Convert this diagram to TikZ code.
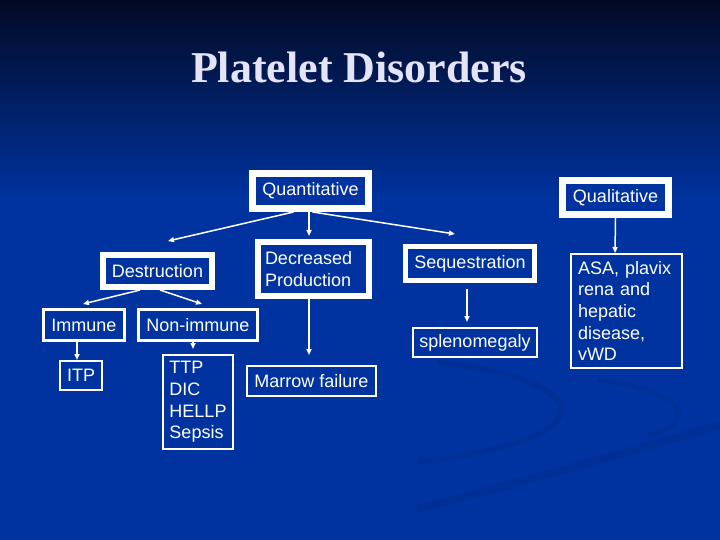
\documentclass[tikz,border=0pt]{standalone}
\usepackage{fontspec}
\setmainfont{Liberation Sans}
\newfontfamily\titlefont{Liberation Serif}
\usetikzlibrary{arrows.meta}

\definecolor{bgtop}{HTML}{020A24}
\definecolor{bgmain}{HTML}{00339F}
\definecolor{swoosh}{HTML}{003096}
\definecolor{titlecol}{HTML}{E4E4F6}

\begin{document}
\begin{tikzpicture}[
    x=1pt, y=-1pt,
    every node/.style={text=white, align=left, inner sep=0pt, font=\fontsize{18}{21.6}\selectfont},
    bigbox/.style={draw=white, line width=6pt, fill=bgmain},
    smallbox/.style={draw=white, line width=2pt, fill=bgmain},
    arrow/.style={-{Triangle[length=6pt,width=5pt]}, draw=white, line width=1.5pt}
]
\useasboundingbox (0,0) rectangle (720,540);

% background
\fill[top color=bgtop, bottom color=bgmain] (0,0) rectangle (720,200);
\fill[bgmain] (0,200) rectangle (720,540);
\draw[swoosh, line width=6pt, line cap=round] (440,362) .. controls (610,385) and (600,440) .. (420,462);
\draw[swoosh, line width=5pt, line cap=round] (600,380) .. controls (700,395) and (690,425) .. (650,435);
\draw[swoosh, line width=8pt, line cap=round] (420,508) .. controls (550,475) and (650,445) .. (720,425);

\node (title) [font=\titlefont\bfseries\fontsize{44}{50}\selectfont, text=titlecol, anchor=base] at (359,83) {Platelet Disorders};

% top level
\node (quant) [bigbox, line width=7pt, minimum width=116pt, minimum height=35pt] at (310.5,191) {Quantitative};
\node (qual) [bigbox, line width=7pt, minimum width=106pt, minimum height=34pt] at (615.5,197.5) {Qualitative};

% second level
\node (destr) [bigbox, minimum width=109pt, minimum height=32pt] at (157.5,271) {Destruction};
\node (decr) [bigbox, minimum width=111pt, minimum height=54pt, text width=97pt] at (313.5,269) {Decreased\\Production};
\node (seq) [bigbox, line width=5pt, minimum width=129pt, minimum height=34pt] at (470,263.5) {Sequestration};
\node (asa) [smallbox, minimum width=111pt, minimum height=114pt, text width=97pt] at (626.5,311) {ASA, plavix\\rena and\\hepatic\\disease,\\vWD};

% third level
\node (immune) [smallbox, line width=3pt, minimum width=81pt, minimum height=31pt] at (84,325) {Immune};
\node (nonimm) [smallbox, line width=3pt, minimum width=119pt, minimum height=31pt] at (198,325) {Non-immune};
\node (spleno) [smallbox, minimum width=124pt, minimum height=29pt] at (475,342.5) {splenomegaly};
\node (itp) [smallbox, minimum width=42pt, minimum height=29pt] at (81,375.5) {ITP};
\node (ttp) [smallbox, minimum width=70pt, minimum height=94pt] at (198,402) {TTP\\DIC\\HELLP\\Sepsis};
\node (marrow) [smallbox, minimum width=129pt, minimum height=30pt] at (311.5,381) {Marrow failure};

% free arrow ends
\coordinate (qleft) at (168,241);
\coordinate (qmid) at (309,236);
\coordinate (qright) at (455,234);
\coordinate (dleft) at (83,304);
\coordinate (dright) at (202,304);
\coordinate (nend) at (193,349);
\coordinate (mend) at (309,355);
\coordinate (send) at (467,322);

\draw[arrow] ([xshift=-17pt]quant.south) -- (qleft);
\draw[arrow] ([xshift=-1.5pt]quant.south) -- (qmid);
\draw[arrow] ([xshift=2pt]quant.south) -- (qright);
\draw[arrow] ([xshift=-17.5pt]destr.south) -- (dleft);
\draw[arrow] ([xshift=2.5pt]destr.south) -- (dright);
\draw[arrow] ([xshift=-7pt]immune.south) -- ([xshift=-4pt]itp.north);
\draw[arrow] ([xshift=-5pt]nonimm.south) -- (nend);
\draw[arrow] ([xshift=-4.5pt]decr.south) -- (mend);
\draw[arrow] ([xshift=-3pt,yshift=-6pt]seq.south) -- (send);
\draw[arrow] (qual.south) -- ([xshift=-11.5pt]asa.north);

\end{tikzpicture}
\end{document}
